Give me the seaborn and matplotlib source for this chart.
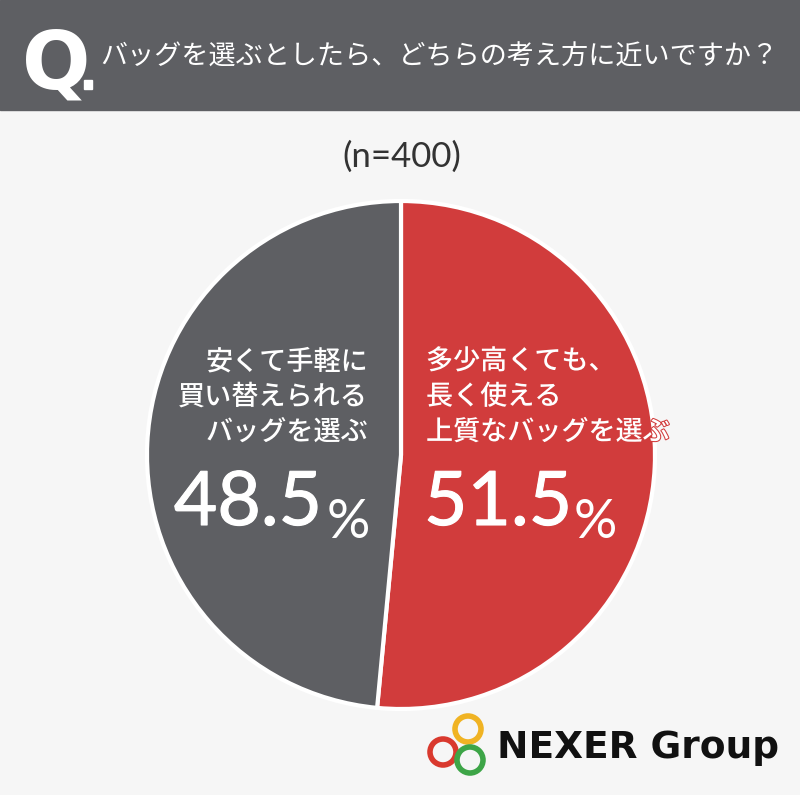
import matplotlib
matplotlib.use('Agg')
import matplotlib.pyplot as plt
import matplotlib.patheffects as pe
from matplotlib.patches import Rectangle, Circle
import seaborn as sns

sns.set_theme(style='white')
plt.rcParams['font.family'] = ['Noto Sans CJK JP', 'DejaVu Sans']

# data
labels = ['多少高くても、\n長く使える\n上質なバッグを選ぶ', '安くて手軽に\n買い替えられる\nバッグを選ぶ']
shares = [51.5, 48.5]
colors = ['#d13c3c', '#5e5f63']
title = 'バッグを選ぶとしたら、どちらの考え方に近いですか？'
sample = '(n=400)'

W, H = 800, 795
bg = '#f6f6f6'
fig = plt.figure(figsize=(W / 100, H / 100), dpi=100, facecolor=bg)

# overlay axes in pixel coordinates
ov = fig.add_axes([0, 0, 1, 1])
ov.set_xlim(0, W)
ov.set_ylim(H, 0)
ov.axis('off')
ov.set_zorder(3)
ov.patch.set_alpha(0)
ov.add_patch(Rectangle((0, 0), W, 110, color='#5e5f63', zorder=0))
ov.text(22, 89, 'Q', fontsize=58, color='white', fontweight='bold', va='baseline', ha='left',
        family=['Liberation Sans Narrow', 'DejaVu Sans'])
ov.add_patch(Rectangle((84, 80), 8, 9, color='white'))
ov.text(100, 57, title, fontsize=19.5, color='white', va='center', ha='left')
ov.text(402, 157, sample, fontsize=25, color='#333333', va='center', ha='center',
        family=['Lato', 'DejaVu Sans'])

# logo
for (px, py), c in zip([(468, 729), (443, 752), (470, 760)], ['#f0b323', '#d9392e', '#3da547']):
    ov.add_patch(Circle((px, py), 13, fill=False, lw=4, ec=c))
ov.text(497, 748, 'NEXER Group', fontsize=27, fontweight='bold', color='#111111',
        va='center', ha='left', family=['DejaVu Sans'])

# pie
cx, cy, r = 401, 455, 254
pax = fig.add_axes([(cx - r) / W, (H - cy - r) / H, 2 * r / W, 2 * r / H])
pax.set_zorder(1)
pax.pie(shares, colors=colors, startangle=90, counterclock=False,
        wedgeprops=dict(edgecolor='white', linewidth=3))
pax.set_aspect('equal')
pax.set_xlim(-1, 1)
pax.set_ylim(-1, 1)
pax.axis('off')

# labels
ov.text(426, 397, labels[0], fontsize=19.5, color='white', ha='left', va='center', linespacing=1.4,
        fontweight='medium',
        path_effects=[pe.withStroke(linewidth=1.5, foreground=colors[0])])
ov.text(368, 397, labels[1], fontsize=19.5, color='white', ha='right', va='center', linespacing=1.4,
        fontweight='medium', multialignment='right')

thick = [pe.withStroke(linewidth=0.8, foreground='white')]
num_kw = dict(fontsize=54, color='white', va='baseline', family=['Lato', 'DejaVu Sans'],
              path_effects=thick)
pct_kw = dict(fontsize=39, color='white', va='baseline', ha='left',
              family=['Lato', 'DejaVu Sans'], textcoords='offset points')
t1 = ov.text(424, 525, f'{shares[0]}', ha='left', **num_kw)
ov.annotate('%', xy=(1, 0), xycoords=t1, xytext=(1, 0), **pct_kw)
t2 = ov.text(322, 525, f'{shares[1]}', ha='right', **num_kw)
ov.annotate('%', xy=(1, 0), xycoords=t2, xytext=(3, 0), **pct_kw)

fig.savefig('out.png', dpi=100, facecolor=bg)
